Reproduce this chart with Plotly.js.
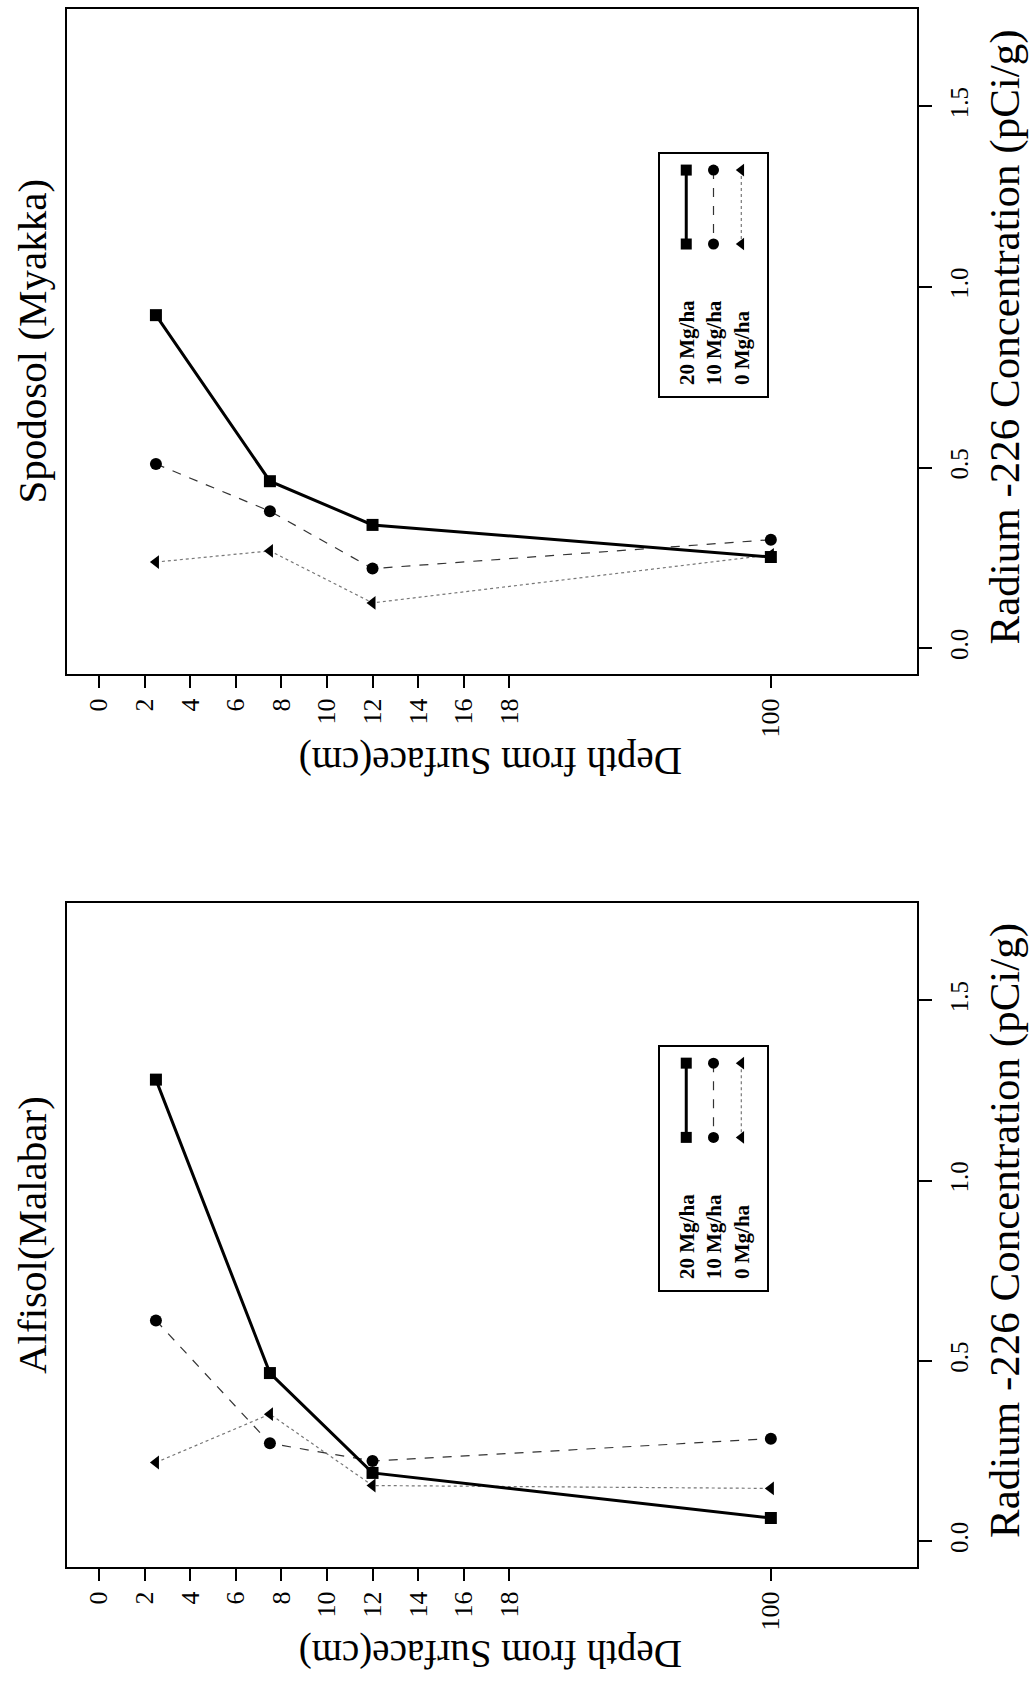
<!DOCTYPE html>
<html>
<head>
<meta charset="utf-8">
<script src="https://cdn.plot.ly/plotly-3.0.1.min.js"></script>
<style>
  html, body { margin: 0; padding: 0; background: #fff; }
  #chart { width: 1029px; height: 1682px; }
</style>
</head>
<body>
<div id="chart"></div>
<script>
// ---------------- data ----------------
const depthTickLabels = [0, 2, 4, 6, 8, 10, 12, 14, 16, 18, 100];   // cm
const depths = [2.5, 7.5, 12, 100];                                  // cm
const concTicks = [0, 0.5, 1.0, 1.5];
const concTickLabels = ['0.0', '0.5', '1.0', '1.5'];
const seriesNames = ['20 Mg/ha', '10 Mg/ha', '0 Mg/ha'];

const spodosol20 = [0.922, 0.462, 0.341, 0.252];
const spodosol10 = [0.510, 0.379, 0.220, 0.300];
const spodosol0  = [0.238, 0.269, 0.125, 0.258];

const alfisol20 = [1.280, 0.466, 0.189, 0.064];
const alfisol10 = [0.612, 0.271, 0.222, 0.284];
const alfisol0  = [0.218, 0.352, 0.154, 0.146];

const panelTitles = ['Spodosol (Myakka)', 'Alfisol(Malabar)'];
const depthTitle = 'Depth from Surface(cm)';
const concTitle = 'Radium -226 Concentration (pCi/g)';

// ---------------- styling / layout ----------------
const FONT = '"Liberation Serif", "Times New Roman", serif';
const W = 1029, H = 1682;
// broken depth axis: depths beyond 20 cm are drawn at one position
const BREAK_FROM = 20, BREAK_AT = 29.47;
const axisPos = d => (d > BREAK_FROM ? BREAK_AT : d);

const styles = [
  { line: { color: '#000', width: 3, dash: 'solid' }, marker: { symbol: 'square', size: 12, color: '#000' } },
  { line: { color: '#333', width: 1.2, dash: 'dash' }, marker: { symbol: 'circle', size: 12, color: '#000' } },
  { line: { color: '#777', width: 1.2, dash: 'dot' }, marker: { symbol: 'triangle-left', size: 12, color: '#000' } }
];

const xPix = [67, 917];
const panels = [
  { top: 9, bottom: 674, series: [spodosol20, spodosol10, spodosol0], title: panelTitles[0],
    legend: { left: 659, right: 768, top: 153, bottom: 397 } },
  { top: 903, bottom: 1567, series: [alfisol20, alfisol10, alfisol0], title: panelTitles[1],
    legend: { left: 659, right: 768, top: 1046, bottom: 1291 } }
];

const px = x => x / W;
const py = y => 1 - y / H;

const traces = [];
const layout = {
  width: W, height: H,
  margin: { l: 0, r: 0, t: 0, b: 0 },
  paper_bgcolor: '#fff', plot_bgcolor: '#fff',
  showlegend: false,
  font: { family: FONT, color: '#000', size: 24 },
  annotations: [],
  shapes: []
};

panels.forEach((p, i) => {
  const xa = i === 0 ? 'x' : 'x2';
  const ya = i === 0 ? 'y' : 'y2';
  const xKey = i === 0 ? 'xaxis' : 'xaxis2';
  const yKey = i === 0 ? 'yaxis' : 'yaxis2';

  layout[xKey] = {
    domain: [px(xPix[0]), px(xPix[1])],
    anchor: ya,
    range: [-1.40, 35.88],
    tickmode: 'array',
    tickvals: depthTickLabels.map(axisPos),
    ticktext: depthTickLabels.map(String),
    tickangle: -90,
    ticks: 'outside', ticklen: 12, tickwidth: 2, tickcolor: '#000',
    ticklabelstandoff: 0,
    showline: true, mirror: true, linewidth: 2, linecolor: '#000',
    showgrid: false, zeroline: false,
    tickfont: { family: FONT, size: 26, color: '#000' },
    automargin: false
  };
  layout[yKey] = {
    domain: [py(p.bottom), py(p.top)],
    anchor: xa,
    side: 'right',
    range: [-0.072, 1.77],
    tickmode: 'array',
    tickvals: concTicks,
    ticktext: concTickLabels,
    tickangle: -90,
    ticks: 'outside', ticklen: 13, tickwidth: 2, tickcolor: '#000',
    ticklabelstandoff: 6,
    showline: true, mirror: true, linewidth: 2, linecolor: '#000',
    showgrid: false, zeroline: false,
    tickfont: { family: FONT, size: 25, color: '#000' },
    automargin: false
  };

  [2, 1, 0].forEach(s => {
    traces.push({
      type: 'scatter', mode: 'lines+markers',
      name: seriesNames[s],
      x: depths.map(axisPos), y: p.series[s],
      xaxis: xa, yaxis: ya,
      line: styles[s].line, marker: styles[s].marker,
      cliponaxis: false, hoverinfo: 'skip'
    });
  });

  layout.annotations.push({
    xref: 'paper', yref: 'paper', x: px(32), y: py((p.top + p.bottom) / 2),
    text: p.title, textangle: -90, showarrow: false,
    xanchor: 'center', yanchor: 'middle',
    font: { family: FONT, size: 41, color: '#000' }
  });
  layout.annotations.push({
    xref: 'paper', yref: 'paper', x: px(491), y: py(p.bottom + 87),
    text: depthTitle, textangle: 180, showarrow: false,
    xanchor: 'center', yanchor: 'middle',
    font: { family: FONT, size: 39, color: '#000' }
  });
  layout.annotations.push({
    xref: 'paper', yref: 'paper', x: px(1005), y: py((p.top + p.bottom) / 2 - 4),
    text: concTitle, textangle: -90, showarrow: false,
    xanchor: 'center', yanchor: 'middle',
    font: { family: FONT, size: 43, color: '#000' }
  });

  // legend (rotated) on hidden helper axes
  const lg = p.legend;
  const lxKey = i === 0 ? 'xaxis3' : 'xaxis4';
  const lyKey = i === 0 ? 'yaxis3' : 'yaxis4';
  const lxa = i === 0 ? 'x3' : 'x4';
  const lya = i === 0 ? 'y3' : 'y4';
  layout[lxKey] = { domain: [px(lg.left), px(lg.right)], range: [0, 1], visible: false, anchor: lya, fixedrange: true };
  layout[lyKey] = { domain: [py(lg.bottom), py(lg.top)], range: [0, 1], visible: false, anchor: lxa, fixedrange: true };
  layout.shapes.push({
    type: 'rect', xref: 'paper', yref: 'paper',
    x0: px(lg.left), x1: px(lg.right), y0: py(lg.bottom), y1: py(lg.top),
    line: { color: '#000', width: 2 }, fillcolor: 'rgba(255,255,255,0)'
  });
  const cols = [0.25, 0.50, 0.755];
  seriesNames.forEach((nm, s) => {
    traces.push({
      type: 'scatter', mode: 'lines+markers',
      x: [cols[s], cols[s]], y: [0.93, 0.627],
      xaxis: lxa, yaxis: lya,
      line: styles[s].line, marker: Object.assign({}, styles[s].marker, { size: 11 }),
      hoverinfo: 'skip', showlegend: false
    });
    layout.annotations.push({
      xref: lxa, yref: lya, x: cols[s], y: 0.04,
      text: nm, textangle: -90, showarrow: false,
      xanchor: 'center', yanchor: 'bottom',
      font: { family: FONT, size: 21, color: '#000', weight: 'bold' }
    });
  });
});

Plotly.newPlot('chart', traces, layout, { staticPlot: true, displayModeBar: false });
</script>
</body>
</html>
